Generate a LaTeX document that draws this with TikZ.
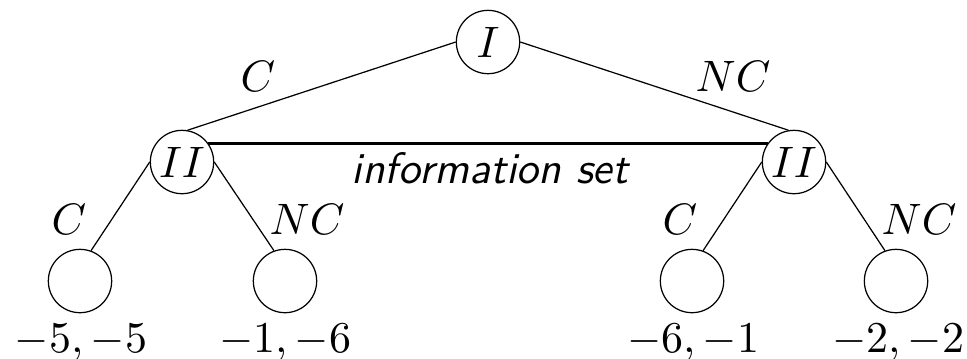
\documentclass[tikz,border=0pt]{standalone}
\begin{document}
\begin{tikzpicture}[x=0.22727pt,y=-0.22727pt,
  state/.style={circle,draw,line width=0.28pt,minimum size=14.4pt,inner sep=0pt},
  branch/.style={line width=0.28pt},
  infoset/.style={line width=0.5pt},
  lab/.style={inner sep=0pt},
  payoff/.style={inner sep=0pt,anchor=base}]
\useasboundingbox (0,0) rectangle (967,358);

% decision nodes
\node[state] (r) at (488,42) {$I$};
\node[state] (a) at (182,162) {$II$};
\node[state] (b) at (794,162) {$II$};

% terminal nodes
\node[state] (l1) at (80,281) {};
\node[state] (l2) at (285,281) {};
\node[state] (l3) at (692,281) {};
\node[state] (l4) at (896,281) {};

% branches
\draw[branch] (r.west) -- (a.80);
\draw[branch] (r.east) -- (b.100);
\draw[branch] (a.west) -- (l1.70);
\draw[branch] (a.east) -- (l2.110);
\draw[branch] (b.west) -- (l3.70);
\draw[branch] (b.east) -- (l4.110);

% information set of player II
\draw[infoset] (a.35) -- (b.145);
\node[payoff] (iset) at (490,183) {\sffamily\itshape information set};

% action labels
\node[lab] (cr) at (258,76) {$C$};
\node[lab] (ncr) at (733,76) {$NC$};
\node[lab] (ca) at (69,219) {$C$};
\node[lab] (nca) at (307,219) {$NC$};
\node[lab] (cb) at (680,219) {$C$};
\node[lab] (ncb) at (919,219) {$NC$};

% payoffs
\node[payoff] (p1) at (81,352) {$-5,-5$};
\node[payoff] (p2) at (285,352) {$-1,-6$};
\node[payoff] (p3) at (693,352) {$-6,-1$};
\node[payoff] (p4) at (898,352) {$-2,-2$};
\end{tikzpicture}
\end{document}
